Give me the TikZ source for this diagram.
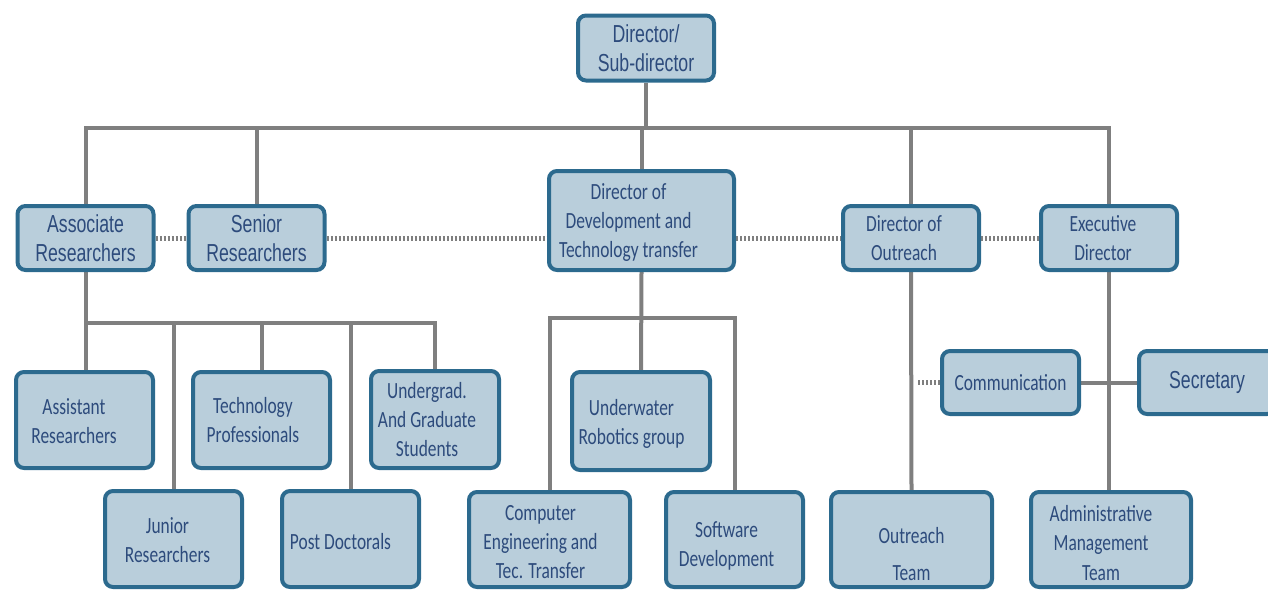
\documentclass[tikz,border=0pt]{standalone}
\usepackage{fontspec}
\setmainfont{Carlito}[FakeStretch=0.75]
\newfontfamily\arialfont{Liberation Sans}[FakeStretch=0.72]
\usepackage{tikz}
\usetikzlibrary{backgrounds}
\definecolor{boxfill}{HTML}{B9CEDB}
\definecolor{boxline}{HTML}{2C6A8E}
\definecolor{boxtext}{HTML}{2D4B7C}
\definecolor{linkgray}{HTML}{7F7F7F}
% text block moved left by #1 and down by #2
\newcommand{\nudged}[3]{\hspace*{-#1}\raisebox{-\dimexpr#2+1.3pt\relax}[\height][\depth]{\begin{tabular}{@{}c@{}}#3\end{tabular}}}

\begin{document}
\begin{tikzpicture}[x=0.5pt,y=-0.5pt,
    box/.style={draw=boxline, line width=2pt, fill=boxfill, rounded corners=4pt,
        text=boxtext, align=center, inner sep=0pt,
        font=\fontsize{11.6}{14.5}\selectfont},
    arialbox/.style={box, font=\arialfont\fontsize{12.3}{14.5}\selectfont},
    flatbox/.style={minimum width=68pt, minimum height=32pt},
    tallbox/.style={minimum width=68.5pt, minimum height=48pt},
    conn/.style={linkgray, line width=2pt},
    dots/.style={linkgray, line width=2.5pt, dash pattern=on 1pt off 1pt}]
    \useasboundingbox (0,0) rectangle (1268,589);

    % bus heights
    \coordinate (topbus) at (0,128);
    \coordinate (resbus) at (0,323);
    \coordinate (devbus) at (0,318);

    % top
    \node[arialbox, minimum width=68pt, minimum height=32.5pt] (dir) at (646,48) {Director/\\Sub-director};

    % second row
    \node[arialbox, flatbox] (assoc)  at (85.5,238)  {Associate\\Researchers};
    \node[arialbox, flatbox] (senior) at (256.5,238) {Senior\\Researchers};
    \node[box, minimum width=92.5pt, minimum height=49.5pt] (dev) at (641.5,220.5) {\nudged{13pt}{0pt}{Director of\\Development and\\Technology transfer}};
    \node[box, flatbox] (outreach) at (911,238)  {\nudged{7pt}{0pt}{Director of\\Outreach}};
    \node[box, flatbox] (exec)     at (1109,238) {\nudged{6pt}{0pt}{Executive\\Director}};

    % researchers
    \node[box, tallbox] (assist)   at (84.5,420)  {\nudged{10.5pt}{0.5pt}{Assistant\\Researchers}};
    \node[box, tallbox] (techprof) at (261.5,420) {\nudged{8.5pt}{0pt}{Technology\\Professionals}};
    \node[box, minimum width=64pt, minimum height=48.5pt] (students) at (435,419.5) {\nudged{8pt}{0pt}{Undergrad.\\And Graduate\\Students}};
    \node[box, tallbox] (junior)  at (173.5,539) {\nudged{6pt}{0.5pt}{Junior\\Researchers}};
    \node[box, tallbox] (postdoc) at (350.5,539) {\nudged{10pt}{1pt}{Post Doctorals}};

    % development
    \node[box, minimum width=69pt, minimum height=49pt] (underwater) at (641,421) {\nudged{9.5pt}{0.5pt}{Underwater\\Robotics group}};
    \node[box, minimum width=80.5pt, minimum height=47.5pt] (compeng) at (549.5,539.5) {\nudged{9pt}{1pt}{Computer\\Engineering and\\Tec. Transfer}};
    \node[box, minimum width=68.5pt, minimum height=47.5pt] (software) at (734.5,539.5) {\nudged{8pt}{2pt}{Software\\Development}};

    % outreach and executive
    \node[box, minimum width=80.5pt, minimum height=47.5pt] (outteam) at (911.5,539.5) {\nudged{0pt}{7pt}{Outreach\\[4pt]Team}};
    \node[box, minimum width=80pt, minimum height=47.5pt] (adminteam) at (1111,539.5) {\nudged{10pt}{1.5pt}{Administrative\\[0.3pt]Management\\[0.3pt]Team}};
    \node[box, minimum width=68.5pt, minimum height=31.5pt] (comm) at (1010.5,382.5) {Communication};
    \node[arialbox, minimum width=68pt, minimum height=31.5pt] (secretary) at (1207,382.5) {Secretary};

    \begin{scope}[on background layer]
        % solid links
        \draw[conn] (dir.south) -- (dir.south |- topbus);
        \draw[conn] (assoc.north) -- (assoc.north |- topbus) -- (exec.north |- topbus) -- (exec.north);
        \foreach \n in {senior,dev,outreach}
            \draw[conn] (\n.north) -- (\n.north |- topbus);
        \draw[conn] (assoc.south) -- (assoc.south |- assist.north);
        \draw[conn] (assoc.south |- resbus) -- (students.north |- resbus) -- (students.north);
        \foreach \n in {junior,techprof,postdoc}
            \draw[conn] (\n.north) -- (\n.north |- resbus);
        \draw[conn] (dev.south) -- (underwater.north);
        \draw[conn] (compeng.north) -- (compeng.north |- devbus) -- (software.north |- devbus) -- (software.north);
        \draw[conn] (outreach.south) -- (outteam.north);
        \draw[conn] (exec.south) -- (exec.south |- adminteam.north);
        \draw[conn] (comm.east) -- (secretary.west);

        % dotted links
        \draw[dots] (assoc.east) -- (senior.west);
        \draw[dots] (senior.east) -- (senior.east -| dev.west);
        \draw[dots] (outreach.west -| dev.east) -- (outreach.west);
        \draw[dots] (outreach.east) -- (exec.west);
        \draw[dots] (comm.west) -- ([xshift=3pt]outreach.south |- comm.west);
    \end{scope}
\end{tikzpicture}
\end{document}
